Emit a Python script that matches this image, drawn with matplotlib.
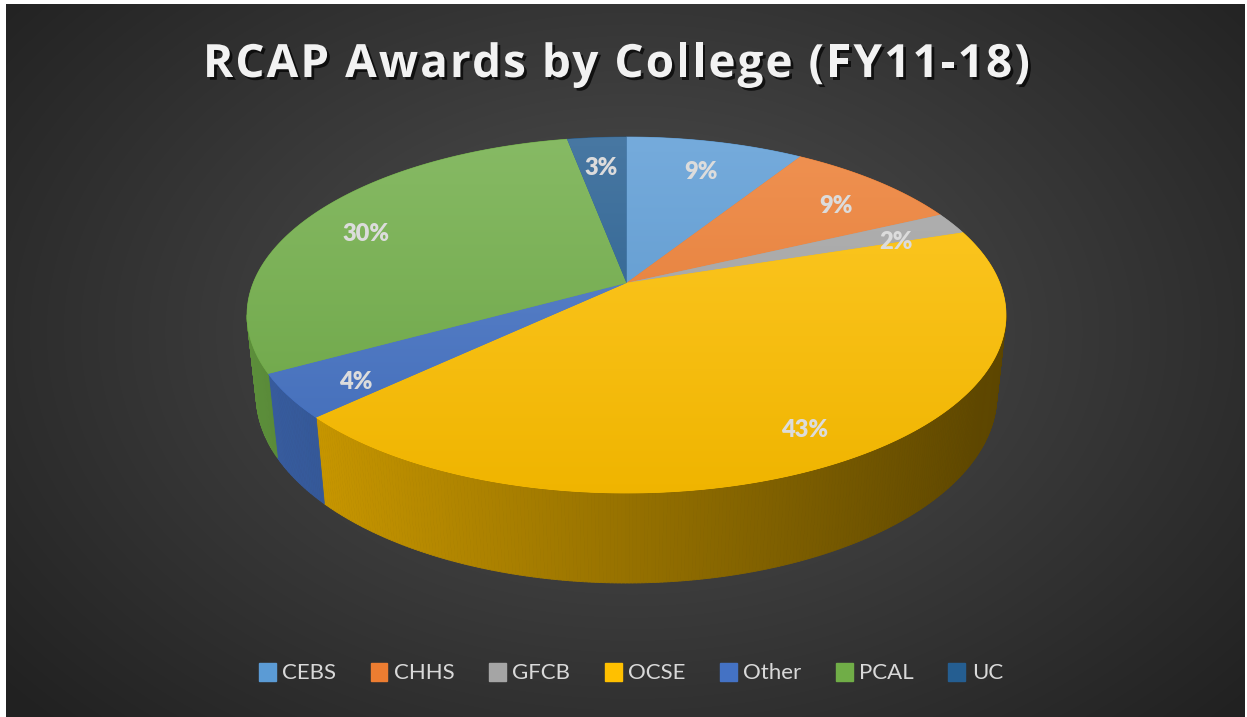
import numpy as np
import matplotlib
matplotlib.use("Agg")
import matplotlib.pyplot as plt
from matplotlib.patches import Polygon, Patch
from matplotlib.collections import PolyCollection
import matplotlib.patheffects as pe

# data
colleges = ["CEBS", "CHHS", "GFCB", "OCSE", "Other", "PCAL", "UC"]
shares = [9, 9, 2, 43, 4, 30, 3]
colors = ["#5b9bd5", "#ed7d31", "#a5a5a5", "#ffc000", "#4472c4", "#70ad47", "#255e91"]
title = "RCAP Awards by College (FY11-18)"

W, H = 1247, 717
plt.rcParams["font.family"] = ["Lato", "DejaVu Sans"]

fig = plt.figure(figsize=(W / 100, H / 100), dpi=100, facecolor="white")
ax = fig.add_axes([0, 0, 1, 1])
ax.set_xlim(0, W)
ax.set_ylim(H, 0)
ax.axis("off")

# dark radial background
yy, xx = np.mgrid[0:H, 0:W]
d = np.sqrt(((xx - 630) / 760.0) ** 2 + ((yy - 330) / 520.0) ** 2)
g = np.clip(0.32 - 0.175 * d, 0.13, 1)
bg = np.dstack([g, g, g])
ax.imshow(bg, extent=(6, W - 2, H, 4), zorder=0, interpolation="bilinear")

# 3d pie projection
tilt = np.radians(28)
dist = 4.9


def proj(X, Y, Z):
    u = Y * np.cos(tilt) + Z * np.sin(tilt)
    w = dist + Z * np.cos(tilt) - Y * np.sin(tilt)
    return X / w, u / w


th_all = np.linspace(0, 2 * np.pi, 2000)
sx, sy = proj(np.sin(th_all), 0 * th_all, np.cos(th_all))
left, right, top, bot = 247, 1006, 137, 493
kx = (right - left) / (sx.max() - sx.min())
ky = (bot - top) / (sy.max() - sy.min())


def to_px(X, Y, Z):
    a, b = proj(X, Y, Z)
    return left + (a - sx.min()) * kx, top + (sy.max() - b) * ky


# wall thickness so the front edge is ~90px tall
hs = np.linspace(0.01, 1.0, 400)
fy = np.array([to_px(0.0, -h, -1.0)[1] - to_px(0.0, 0.0, -1.0)[1] for h in hs])
thick = np.interp(90, fy, hs)

fracs = np.array(shares) / sum(shares)
edges = np.concatenate([[0], np.cumsum(fracs)]) * 2 * np.pi


def shade(c, f):
    r = matplotlib.colors.to_rgb(c)
    return tuple(np.clip(np.array(r) * f, 0, 1))


def tint(c, f):
    r = np.array(matplotlib.colors.to_rgb(c))
    return tuple(r + (1 - r) * f)


# visible front arc of the side wall
px_all, _ = to_px(np.sin(th_all), 0 * th_all, np.cos(th_all))
th_r = th_all[np.argmax(px_all)]
th_l = th_all[np.argmin(px_all)]

quads, qcols = [], []
for i, c in enumerate(colors):
    a0, a1 = max(edges[i], th_r), min(edges[i + 1], th_l)
    if a1 <= a0:
        continue
    t = np.linspace(a0, a1, max(3, int((a1 - a0) * 120)))
    xt, yt = to_px(np.sin(t), 0 * t, np.cos(t))
    xb, yb = to_px(np.sin(t), -thick + 0 * t, np.cos(t))
    for j in range(len(t) - 1):
        quads.append([(xt[j], yt[j]), (xt[j + 1], yt[j + 1]),
                      (xb[j + 1], yb[j + 1]), (xb[j], yb[j])])
        xm = (xt[j] + xt[j + 1]) / 2
        f = 0.82 - 0.46 * (xm - left) / (right - left)
        qcols.append(shade(c, f))
ax.add_collection(PolyCollection(quads, facecolors=qcols, edgecolors=qcols,
                                 linewidths=0.6, zorder=2))

# top faces with a soft vertical gradient
ax0, ay0 = to_px(0.0, 0.0, 0.0)
gy = np.linspace(0, 1, 256)[:, None]
for i, c in enumerate(colors):
    t = np.linspace(edges[i], edges[i + 1], max(3, int(fracs[i] * 400)))
    xr, yr = to_px(np.sin(t), 0 * t, np.cos(t))
    pts = np.column_stack([np.r_[ax0, xr], np.r_[ay0, yr]])
    poly = Polygon(pts, closed=True, facecolor=c, edgecolor=c, lw=0.5, zorder=3)
    ax.add_patch(poly)
    c_top = np.array(tint(c, 0.16))
    c_bot = np.array(shade(c, 0.94))
    img = c_top * (1 - gy[..., None]) + c_bot * gy[..., None]
    img = np.repeat(img, 2, axis=1)
    im = ax.imshow(img, extent=(left, right, bot, top), zorder=4,
                   interpolation="bilinear", aspect="auto")
    im.set_clip_path(poly)

# percentage labels
for i in range(len(colleges)):
    m = (edges[i] + edges[i + 1]) / 2
    r = 0.82
    lx, ly = to_px(r * np.sin(m), 0.0, r * np.cos(m))
    ax.text(lx, ly + 8, f"{shares[i]}%", ha="center", va="center",
            fontsize=17, fontweight="heavy", color="#dcdcdc", zorder=6)

ax.set_xlim(0, W)
ax.set_ylim(H, 0)

# title, drawn letter by letter to get the wide tracking
renderer = fig.canvas.get_renderer()
tkw = dict(fontsize=33, fontweight="bold", color="#f2f2f2", zorder=6,
           family=["Open Sans", "DejaVu Sans"], va="baseline", ha="right",
           path_effects=[pe.SimplePatchShadow(offset=(2, -2), shadow_rgbFace="black", alpha=0.7),
                         pe.Normal()])


def text_w(s):
    tt = ax.text(0, 0, s, **tkw)
    w = tt.get_window_extent(renderer).width
    tt.remove()
    return w


t_left, t_right = 203, 1030
full = text_w(title)
sp = (t_right - t_left - full) / (len(title) - 1)
for i, ch in enumerate(title):
    if ch == " ":
        continue
    xr = t_left + text_w(title[:i + 1]) + i * sp
    ax.text(xr, 77, ch, **tkw)

handles = [Patch(facecolor=c, edgecolor=c) for c in colors]
leg = ax.legend(handles, colleges, loc="center", bbox_to_anchor=(631 / W, 1 - 673 / H),
                ncol=7, frameon=False, fontsize=16, handlelength=0.75, handleheight=0.9,
                handletextpad=0.3, columnspacing=1.55, labelcolor="#d9d9d9")

fig.savefig("out.png", dpi=100, facecolor="white")
